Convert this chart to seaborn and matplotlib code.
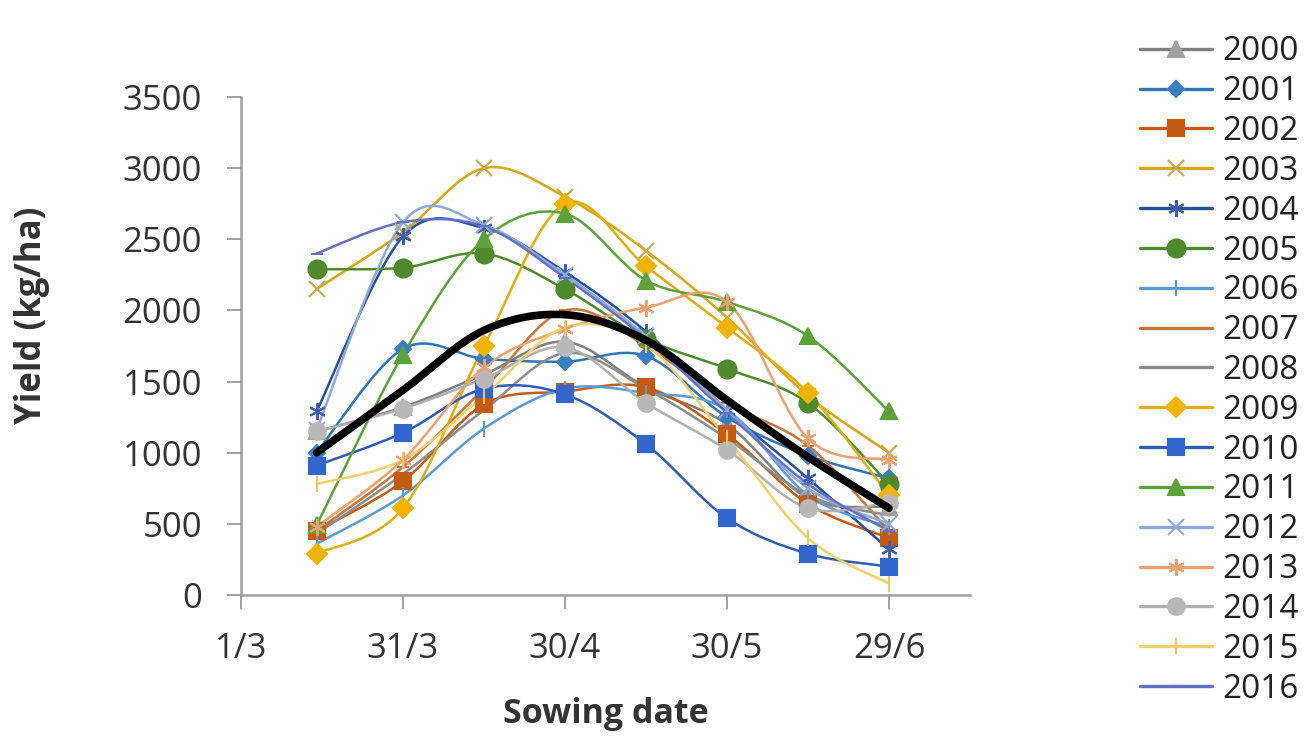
import numpy as np
import pandas as pd
import matplotlib
matplotlib.use("Agg")
import matplotlib.pyplot as plt
from matplotlib.path import Path
from matplotlib.patches import PathPatch
from matplotlib.lines import Line2D
import seaborn as sns

# ---- data -------------------------------------------------------------
sowing_day = [14, 30, 45, 60, 75, 90, 105, 120]          # days after 1 March
tick_days = [0, 30, 60, 90, 120]
tick_labels = ["1/3", "31/3", "30/4", "30/5", "29/6"]

y2000 = [1150, 1320, 1550, 1780, 1460, 1200, 680, 620]
y2001 = [1000, 1730, 1660, 1640, 1680, 1250, 980, 820]
y2002 = [450, 800, 1340, 1430, 1460, 1130, 640, 400]
y2003 = [2150, 2550, 3000, 2800, 2420, 1950, 1400, 1000]
y2004 = [1290, 2520, 2580, 2270, 1850, 1300, 820, 320]
y2005 = [2290, 2300, 2400, 2150, 1800, 1590, 1350, 780]
y2006 = [360, 700, 1170, 1450, 1420, 1300, 700, 480]
y2007 = [450, 900, 1450, 2000, 1750, 1350, 1050, 450]
y2008 = [430, 850, 1300, 1700, 1450, 1100, 700, 560]
y2009 = [290, 610, 1750, 2750, 2310, 1880, 1420, 700]
y2010 = [910, 1140, 1450, 1410, 1060, 540, 290, 200]
y2011 = [490, 1690, 2500, 2680, 2210, 2060, 1820, 1290]
y2012 = [1160, 2620, 2600, 2250, 1820, 1300, 750, 500]
y2013 = [480, 950, 1600, 1870, 2020, 2060, 1100, 950]
y2014 = [1150, 1310, 1520, 1740, 1350, 1020, 610, 650]
y2015 = [780, 950, 1400, 1880, 1760, 1100, 400, 80]
y2016 = [2400, 2620, 2590, 2230, 1800, 1280, 780, 450]
mean_yield = [1000, 1440, 1860, 1970, 1790, 1370, 970, 610]

years = ["2000", "2001", "2002", "2003", "2004", "2005", "2006", "2007", "2008",
         "2009", "2010", "2011", "2012", "2013", "2014", "2015", "2016"]
series = [y2000, y2001, y2002, y2003, y2004, y2005, y2006, y2007, y2008,
          y2009, y2010, y2011, y2012, y2013, y2014, y2015, y2016]

# ---- styles -----------------------------------------------------------
AST = (6, 2, 0)
styles = {
    "2000": ("#7f7f7f", "#a0a0a0", "^", 11),
    "2001": ("#2e75b6", "#3a7fc4", "D", 8),
    "2002": ("#c55a11", "#c55a11", "s", 11),
    "2003": ("#d8a514", "#c9a94a", "x", 12),
    "2004": ("#264f9c", "#3b5fae", AST, 12),
    "2005": ("#4e8a2c", "#4e8a2c", "o", 13),
    "2006": ("#5b9bd5", "#5b9bd5", "|", 11),
    "2007": ("#c8753c", "#c8753c", "_", 9),
    "2008": ("#8c8c8c", "#8c8c8c", None, 0),
    "2009": ("#e0ad10", "#f0b400", "D", 10),
    "2010": ("#2f5bb7", "#3366cc", "s", 12),
    "2011": ("#5ca13a", "#5ca13a", "^", 12),
    "2012": ("#8eaadb", "#8eaadb", "x", 12),
    "2013": ("#f0a070", "#f0a070", AST, 12),
    "2014": ("#b0b0b0", "#b8b8b8", "o", 12),
    "2015": ("#f2d06b", "#e8c860", "|", 11),
    "2016": ("#6470c4", "#6470c4", "_", 9),
}

TXT = "#333333"

sns.set_theme(style="white")
plt.rcParams["font.family"] = ["Open Sans", "DejaVu Sans"]

fig = plt.figure(figsize=(13.04, 7.53), dpi=100)
ax = fig.add_axes([241 / 1304, 1 - 595 / 753, 729 / 1304, 498 / 753])


def smooth_path(xs, ys):
    """Excel-style smoothed line: cubic Bezier through the data points."""
    p = np.column_stack([xs, ys]).astype(float)
    n = len(p)
    verts = [p[0]]
    codes = [Path.MOVETO]
    for i in range(n - 1):
        p0 = p[i - 1] if i > 0 else p[i]
        p1 = p[i]
        p2 = p[i + 1]
        p3 = p[i + 2] if i + 2 < n else p[i + 1]
        c1 = p1 + (p2 - p0) / 6.0
        c2 = p2 - (p3 - p1) / 6.0
        verts += [c1, c2, p2]
        codes += [Path.CURVE4] * 3
    return Path(verts, codes)


handles = []
for yr, vals in zip(years, series):
    lc, mc, mk, ms = styles[yr]
    ax.add_patch(PathPatch(smooth_path(sowing_day, vals), fill=False,
                           edgecolor=lc, lw=1.8, zorder=2, capstyle="round"))
    if mk is not None:
        df = pd.DataFrame({"day": sowing_day, "yield": vals})
        sns.lineplot(data=df, x="day", y="yield", ax=ax, linewidth=0,
                     marker=mk, markersize=ms, color=mc,
                     markeredgecolor=mc, markeredgewidth=1.5,
                     legend=False, zorder=3)
    handles.append(Line2D([0], [0], color=lc, lw=2.4,
                          marker=mk if mk is not None else None,
                          markersize=ms, markerfacecolor=mc,
                          markeredgecolor=mc, markeredgewidth=1.5))

ax.add_patch(PathPatch(smooth_path(sowing_day, mean_yield), fill=False,
                       edgecolor="black", lw=5.5, zorder=4, capstyle="round"))

ax.set_xlim(0, 135)
ax.set_ylim(0, 3500)
ax.set_xticks(tick_days)
ax.set_xticklabels(tick_labels)
ax.set_yticks(np.arange(0, 3501, 500))
ax.tick_params(axis="both", which="both", direction="out", length=10,
               width=1.4, color="#a0a0a0", labelsize=25, labelcolor=TXT,
               bottom=True, left=True)
ax.tick_params(axis="y", pad=18)
ax.tick_params(axis="x", pad=17)

for side in ["top", "right"]:
    ax.spines[side].set_visible(False)
for side in ["left", "bottom"]:
    ax.spines[side].set_color("#a0a0a0")
    ax.spines[side].set_linewidth(1.8)
ax.grid(False)

ax.set_xlabel("Sowing date", fontsize=24.5, fontweight="bold", color=TXT)
ax.set_ylabel("Yield (kg/ha)", fontsize=25, fontweight="bold", color=TXT)
ax.xaxis.set_label_coords(0.5, -0.205)
ax.yaxis.set_label_coords(-0.262, 0.562)

fig.legend(handles, years, loc="upper left",
           bbox_to_anchor=(1127 / 1304, 1 - 22 / 753),
           frameon=False, fontsize=24, handlelength=2.16, handletextpad=0.3,
           labelspacing=0.205, borderaxespad=0, labelcolor="#222222")

fig.savefig("out.png", dpi=100, facecolor="white")
